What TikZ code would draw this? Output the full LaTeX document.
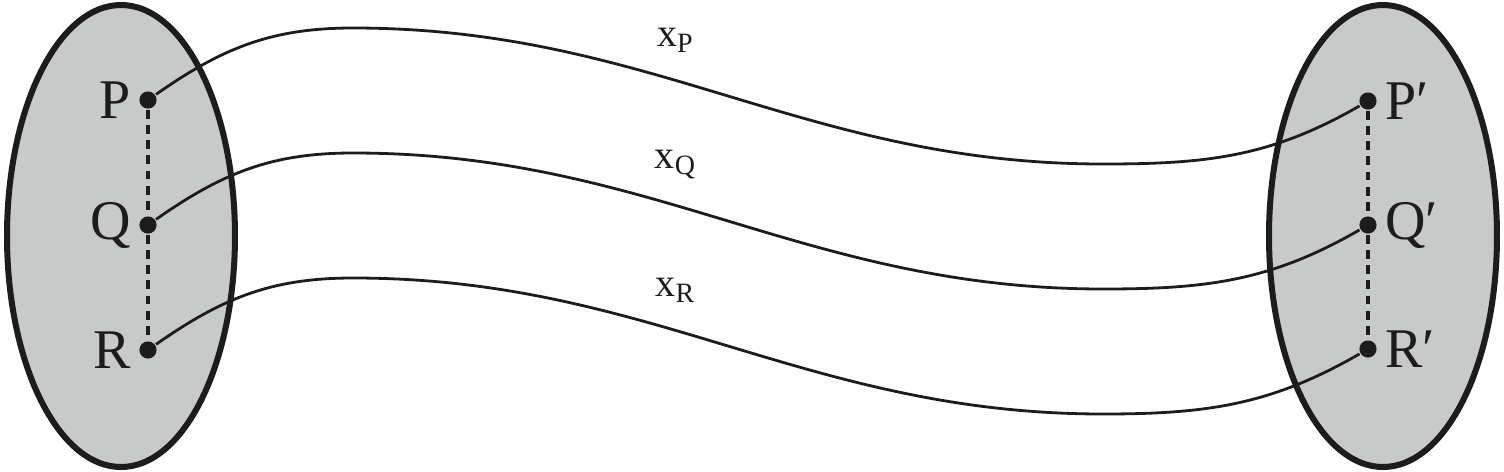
\documentclass[tikz,border=0pt]{standalone}
\usepackage{fontspec}
\setmainfont{Liberation Serif}
\usetikzlibrary{shapes.geometric}

\definecolor{regiongray}{RGB}{200,201,201}
\definecolor{inkgray}{RGB}{28,28,28}

\begin{document}
\begin{tikzpicture}[x=0.25pt,y=-0.25pt,semithick]
  \tikzstyle{region}=[ellipse,draw=inkgray,fill=regiongray,line width=1.5pt,inner sep=0pt,minimum width=57pt,minimum height=115.5pt]
  \tikzstyle{dot}=[circle,fill=inkgray,inner sep=0pt,minimum size=4.3pt]
  \tikzstyle{every label}=[font=\fontsize{14}{16}\selectfont,text=inkgray,inner sep=1.5pt]
  \tikzstyle{far}=[label distance=1pt]
  \tikzstyle{link}=[draw=inkgray,dash pattern=on 2.2pt off 1.6pt,line width=0.9pt]
  \tikzstyle{wire}=[draw=inkgray,line width=0.7pt]
  \tikzstyle{wirelabel}=[font=\fontsize{10}{12}\selectfont,text=inkgray,inner sep=0pt]

  \useasboundingbox (0,0) rectangle (1504,472);

  \node[region] (A) at (121,236) {};
  \node[region] (B) at (1383,236) {};

  \node[dot,label=left:P] (P) at (148,100) {};
  \node[dot,label=left:Q] (Q) at (148,225) {};
  \node[dot,label=left:R] (R) at (148,350) {};
  \node[dot,far,label=right:P′] (Pp) at (1368,101) {};
  \node[dot,far,label=right:Q′] (Qp) at (1368,225) {};
  \node[dot,far,label=right:R′] (Rp) at (1368,349) {};

  \path[link] (P) -- (Q) (Q) -- (R);
  \path[link] (Pp) -- (Qp) (Qp) -- (Rp);

  \path[wire] (P) to[out=35,in=180] ++(205,-72) to[out=0,in=180] ++(750,136) to[out=0,in=210] (Pp);
  \path[wire] (Q) to[out=35,in=180] ++(205,-72) to[out=0,in=180] ++(750,136) to[out=0,in=210] (Qp);
  \path[wire] (R) to[out=35,in=180] ++(205,-72) to[out=0,in=180] ++(750,136) to[out=0,in=210] (Rp);

  \node[wirelabel] (xP) at (676,40) {x\textsubscript{P}};
  \node[wirelabel] (xQ) at (676,165) {x\textsubscript{Q}};
  \node[wirelabel] (xR) at (676,290) {x\textsubscript{R}};
\end{tikzpicture}
\end{document}
